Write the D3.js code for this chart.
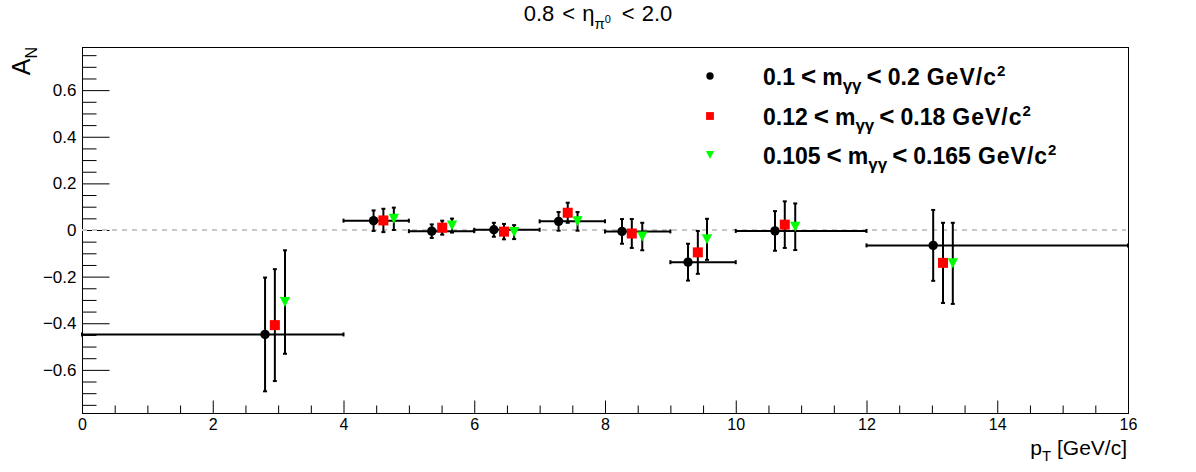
<!DOCTYPE html>
<html>
<head>
<meta charset="utf-8">
<script src="https://cdn.jsdelivr.net/npm/d3@7"></script>
<style>
  body { margin: 0; background: #fff; }
  svg { display: block; font-family: "Liberation Sans", Arial, sans-serif; }
</style>
</head>
<body>
<svg id="chart" width="1196" height="472"></svg>
<script>
// pT bins (horizontal error bars of the wide mass window)
var binLo = [0, 4, 5, 6, 7, 8, 9, 10, 12];
var binHi = [4, 5, 6, 7, 8, 9, 10, 12, 16];

// 0.1 < m < 0.2
var ptWide  = [2.80, 4.46, 5.35, 6.30, 7.29, 8.26, 9.27, 10.60, 13.02];
var anWide  = [-0.448, 0.040, -0.005, 0.001, 0.037, -0.006, -0.138, -0.004, -0.066];
var errWide = [0.244, 0.044, 0.029, 0.030, 0.040, 0.053, 0.079, 0.085, 0.152];

// 0.12 < m < 0.18
var ptMid  = [2.95, 4.61, 5.51, 6.455, 7.43, 8.41, 9.42, 10.75, 13.17];
var anMid  = [-0.408, 0.041, 0.010, -0.007, 0.074, -0.015, -0.096, 0.023, -0.141];
var errMid = [0.240, 0.050, 0.030, 0.033, 0.043, 0.062, 0.092, 0.100, 0.172];

// 0.105 < m < 0.165
var ptNarrow  = [3.105, 4.77, 5.66, 6.61, 7.58, 8.57, 9.56, 10.91, 13.32];
var anNarrow  = [-0.309, 0.048, 0.019, -0.009, 0.037, -0.028, -0.040, 0.014, -0.143];
var errNarrow = [0.222, 0.048, 0.030, 0.030, 0.040, 0.059, 0.088, 0.100, 0.174];

var xTicks = [0, 2, 4, 6, 8, 10, 12, 14, 16];
var yTicks = [-0.6, -0.4, -0.2, 0, 0.2, 0.4, 0.6];
var legendLo = ["0.1", "0.12", "0.105"];
var legendHi = ["0.2", "0.18", "0.165"];

Draw = (function() {
  var svg = d3.select("#chart");
  var pL = 82, pR = 1128, pT = 47, pB = 413;
  var font = "Liberation Sans, Arial, sans-serif";

  var x = d3.scaleLinear().domain([0, 16]).range([pL, pR]);
  var y = d3.scaleLinear().domain([-0.785, 0.785]).range([pB, pT]);

  // frame
  svg.append("rect")
    .attr("x", pL + 0.5).attr("y", pT + 0.5)
    .attr("width", pR - pL).attr("height", pB - pT)
    .attr("fill", "none").attr("stroke", "#000").attr("stroke-width", 1);

  // x axis ticks (drawn upward, ROOT style)
  var xMinor = d3.range(0, 16.01, 0.5).filter(v => v % 2 !== 0);
  var gx = svg.append("g").attr("transform", "translate(0," + (pB + 0.5) + ")")
    .call(d3.axisBottom(x).tickValues(xTicks).tickSizeInner(-13).tickSizeOuter(0)
      .tickFormat(d3.format("d")));
  gx.select(".domain").remove();
  gx.selectAll("text").attr("y", 5).attr("dy", "0.71em")
    .attr("font-size", 16).attr("font-family", font).attr("fill", "#000");
  gx.selectAll("line").attr("stroke", "#000");
  svg.append("g").attr("transform", "translate(0," + (pB + 0.5) + ")")
    .call(d3.axisBottom(x).tickValues(xMinor).tickSizeInner(-8).tickSizeOuter(0).tickFormat(""))
    .call(g => g.select(".domain").remove());

  // y axis ticks (drawn rightward)
  var yMinor = d3.range(-15, 16).filter(v => v % 4 !== 0).map(v => v * 0.05);
  var gy = svg.append("g").attr("transform", "translate(" + (pL + 0.5) + ",0)")
    .call(d3.axisLeft(y).tickValues(yTicks).tickSizeInner(-27).tickSizeOuter(0)
      .tickFormat(d => d === 0 ? "0" : d3.format(".1f")(d)));
  gy.select(".domain").remove();
  gy.selectAll("text").attr("x", -6)
    .attr("font-size", 17).attr("font-family", font).attr("fill", "#000");
  svg.append("g").attr("transform", "translate(" + (pL + 0.5) + ",0)")
    .call(d3.axisLeft(y).tickValues(yMinor).tickSizeInner(-14).tickSizeOuter(0).tickFormat(""))
    .call(g => g.select(".domain").remove());

  // dashed zero line
  svg.append("line")
    .attr("x1", x(0)).attr("x2", x(16) - 2)
    .attr("y1", y(0)).attr("y2", y(0))
    .attr("stroke", "#c8c8c8").attr("stroke-width", 2)
    .attr("stroke-dasharray", "5,5");

  var series = [
    { pt: ptWide, an: anWide, err: errWide, color: "#000000", marker: "circle", hbar: true },
    { pt: ptMid, an: anMid, err: errMid, color: "#ff0000", marker: "square", hbar: false },
    { pt: ptNarrow, an: anNarrow, err: errNarrow, color: "#00ff00", marker: "tri", hbar: false }
  ];

  var cap = 2;
  series.forEach(function(s) {
    var g = svg.append("g");
    var pts = s.pt.map((p, i) => ({ p: p, a: s.an[i], e: s.err[i], lo: binLo[i], hi: binHi[i] }));

    if (s.hbar) {
      pts.forEach(function(d) {
        g.append("line").attr("x1", x(d.lo)).attr("x2", x(d.hi))
          .attr("y1", y(d.a)).attr("y2", y(d.a))
          .attr("stroke", "#000").attr("stroke-width", 2);
        [d.lo, d.hi].forEach(function(e) {
          g.append("line").attr("x1", x(e)).attr("x2", x(e))
            .attr("y1", y(d.a) - cap).attr("y2", y(d.a) + cap)
            .attr("stroke", "#000").attr("stroke-width", 2);
        });
      });
    }
    pts.forEach(function(d) {
      var cx = x(d.p);
      g.append("line").attr("x1", cx).attr("x2", cx)
        .attr("y1", y(d.a + d.e)).attr("y2", y(d.a - d.e))
        .attr("stroke", "#000").attr("stroke-width", 2);
      [d.a + d.e, d.a - d.e].forEach(function(v) {
        g.append("line").attr("x1", cx - cap).attr("x2", cx + cap)
          .attr("y1", y(v)).attr("y2", y(v))
          .attr("stroke", "#000").attr("stroke-width", 2);
      });
    });
    pts.forEach(function(d) { drawMarker(g, s.marker, x(d.p), y(d.a), s.color, 1); });
  });

  function drawMarker(g, type, cx, cy, color, k) {
    if (type === "circle") {
      g.append("circle").attr("cx", cx).attr("cy", cy).attr("r", 4.7 * k).attr("fill", color);
    } else if (type === "square") {
      var h = 5 * k;
      g.append("rect").attr("x", cx - h).attr("y", cy - h)
        .attr("width", 2 * h).attr("height", 2 * h).attr("fill", color);
    } else {
      var w = 5.2 * k, hh = 5 * k;
      g.append("path")
        .attr("d", "M" + (cx - w) + "," + (cy - hh) + "L" + (cx + w) + "," + (cy - hh) +
          "L" + cx + "," + (cy + hh) + "Z")
        .attr("fill", color);
    }
  }

  // title
  var title = svg.append("text").attr("x", 598).attr("y", 21)
    .attr("text-anchor", "middle").attr("font-size", 22);
  title.append("tspan").text("0.8");
  title.append("tspan").attr("dx", 8).text("<");
  title.append("tspan").attr("dx", 7).text("η");
  title.append("tspan").attr("dy", 8).attr("font-size", 15).text("π");
  title.append("tspan").attr("dy", -6).attr("font-size", 11).text("0");
  title.append("tspan").attr("dy", -2).attr("dx", 11).text("<");
  title.append("tspan").attr("dx", 7).text("2.0");

  // y title
  var yt = svg.append("text").attr("transform", "translate(30,47) rotate(-90)")
    .attr("text-anchor", "end").attr("font-size", 25);
  yt.append("tspan").text("A");
  yt.append("tspan").attr("dy", 7).attr("font-size", 16).text("N");

  // x title
  var xt = svg.append("text").attr("x", 1127).attr("y", 455)
    .attr("text-anchor", "end").attr("font-size", 21);
  xt.append("tspan").text("p");
  xt.append("tspan").attr("dy", 6).attr("font-size", 15).text("T");
  xt.append("tspan").attr("dy", -6).text(" [GeV/c]");

  // legend
  var legendY = [76, 116, 155];
  legendLo.forEach(function(lo, i) {
    drawMarker(svg, series[i].marker, 710, legendY[i], series[i].color, 0.78);
    var t = svg.append("text").attr("x", 763).attr("y", legendY[i] + 9)
      .attr("font-size", 23).attr("font-weight", "bold");
    t.append("tspan").text(lo);
    t.append("tspan").attr("dx", 6).attr("font-size", 26).text("<");
    t.append("tspan").attr("dx", 6).text("m");
    t.append("tspan").attr("dy", 6).attr("font-size", 17).text("γγ");
    t.append("tspan").attr("dy", -6).attr("dx", 5).attr("font-size", 26).text("<");
    t.append("tspan").attr("dx", 6).text(legendHi[i]);
    t.append("tspan").attr("dx", 7).attr("letter-spacing", 1).text("GeV/c");
    t.append("tspan").attr("dy", -9).attr("font-size", 15).text("2");
  });
});

Draw();
</script>
</body>
</html>
